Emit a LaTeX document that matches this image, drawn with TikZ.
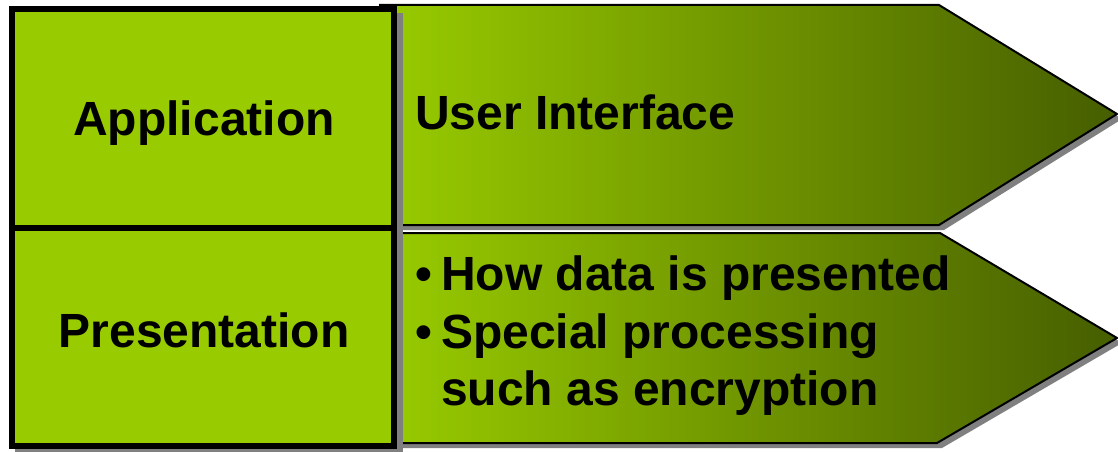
\documentclass[tikz,border=0pt]{standalone}
\usepackage{fontspec}
\setmainfont{Liberation Sans}
\definecolor{lgreen}{HTML}{99CC00}
\definecolor{dgreen}{HTML}{465E00}
\definecolor{shadowgray}{HTML}{808080}
\begin{document}
\begin{tikzpicture}[x=1pt,y=-1pt,
  arrowshape/.style={draw=black, line width=2pt, line join=miter, left color=lgreen, right color=dgreen},
  shadowfill/.style={fill=shadowgray},
  boxline/.style={draw=black, line width=6pt},
  lbl/.style={font=\fontsize{48}{57.5}\selectfont\bfseries, inner sep=0pt, text=black}]
\useasboundingbox (0,0) rectangle (1118,452);
% top arrow
\fill[shadowfill, shift={(5,5)}] (380,5) -- (939,5) -- (1117,114) -- (939,225) -- (380,225) -- cycle;
\path[arrowshape] (380,5) -- (939,5) -- (1117,114) -- (939,225) -- (380,225) -- cycle;
% bottom arrow
\fill[shadowfill, shift={(5,5)}] (380,233) -- (940,233) -- (1117,338) -- (937,443) -- (380,443) -- cycle;
\path[arrowshape] (380,233) -- (940,233) -- (1117,338) -- (937,443) -- (380,443) -- cycle;
% left boxes
\fill[shadowfill] (15,13) rectangle (403,455);
\path[boxline, fill=lgreen] (12,9.5) rectangle (394,446);
\draw[boxline] (12,227.5) -- (394,227.5);
% texts
\node[lbl, anchor=base] (app) at (204,135) {Application};
\node[lbl, anchor=base] (pres) at (204,347) {Presentation};
\node[lbl, anchor=base west] (ui) at (415,129) {User Interface};
\node[lbl, anchor=base west] (bul1) at (415,290) {•};
\node[lbl, anchor=base west] (t1) at (441,290) {How data is presented};
\node[lbl, anchor=base west] (bul2) at (415,348) {•};
\node[lbl, anchor=base west] (t2) at (441,348) {Special processing};
\node[lbl, anchor=base west] (t3) at (441,405) {such as encryption};
\end{tikzpicture}
\end{document}
